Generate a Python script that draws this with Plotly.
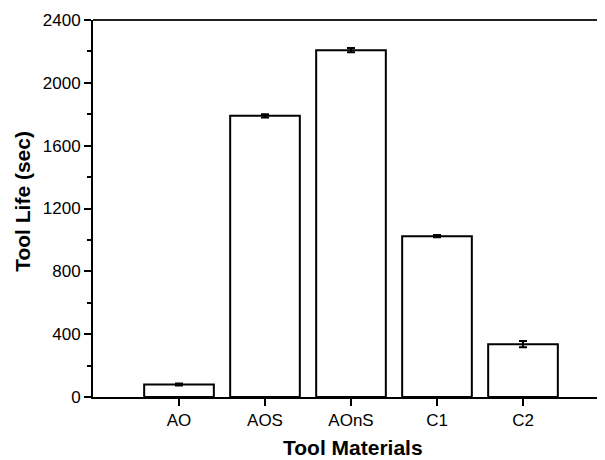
import plotly.graph_objects as go

categories = ["AO", "AOS", "AOnS", "C1", "C2"]
positions = [1, 2, 3, 4, 5]
tool_life = [80, 1790, 2208, 1024, 336]
tool_life_err = [6, 10, 14, 7, 20]
y_ticks = [0, 400, 800, 1200, 1600, 2000, 2400]

FONT = "Liberation Sans, Arial, sans-serif"

fig = go.Figure()
fig.add_trace(go.Bar(
    x=positions, y=tool_life,
    width=0.81,
    marker=dict(color="white", line=dict(color="black", width=2)),
    error_y=dict(type="data", array=tool_life_err, color="black", thickness=2, width=4),
    showlegend=False,
))

# page body has an 8px margin, so the figure is sized/offset to compensate
fig.update_layout(
    width=597, height=452,
    margin=dict(l=85, r=0, t=12, b=63),
    paper_bgcolor="white", plot_bgcolor="white",
    font=dict(family=FONT, size=17, color="black"),
    xaxis=dict(
        range=[0, 512 / 86], tickvals=positions, ticktext=categories,
        showline=True, linecolor="black", linewidth=2,
        ticks="outside", ticklen=7, tickwidth=2, tickcolor="black",
        showgrid=False, zeroline=False,
    ),
    yaxis=dict(
        range=[0, 2400], tickvals=y_ticks,
        showline=True, linecolor="black", linewidth=2,
        ticks="outside", ticklen=7, tickwidth=2, tickcolor="black",
        minor=dict(dtick=200, ticks="outside", ticklen=4, tickwidth=2, tickcolor="black"),
        showgrid=False, zeroline=False,
    ),
    shapes=[dict(type="line", xref="paper", yref="paper", x0=0, x1=1, y0=1, y1=1,
                 line=dict(color="#222", width=2))],
    annotations=[
        dict(text="<b>Tool Materials</b>", xref="paper", yref="paper",
             x=0.508, y=-0.135, xanchor="center", yanchor="middle",
             showarrow=False, font=dict(size=21)),
        dict(text="<b>Tool Life (sec)</b>", xref="paper", yref="paper",
             x=-0.137, y=0.52, xanchor="center", yanchor="middle", textangle=-90,
             showarrow=False, font=dict(size=21)),
    ],
)

fig.write_html("out.html")
